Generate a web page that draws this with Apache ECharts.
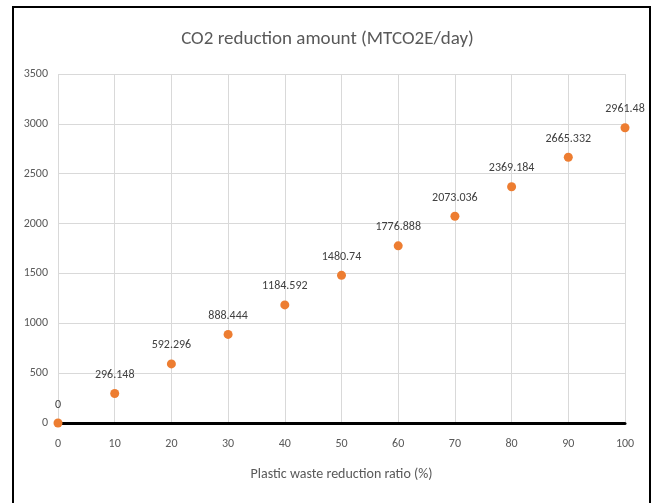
<!DOCTYPE html>
<html><head><meta charset="utf-8">
<script src="https://cdn.jsdelivr.net/npm/echarts@6/dist/echarts.min.js"></script>
<style>html,body{margin:0;padding:0;background:#fff}#c{width:655px;height:503px}</style>
</head><body><div id="c"></div>
<script>
const ratios = [0, 10, 20, 30, 40, 50, 60, 70, 80, 90, 100];
const reductions = [0, 296.148, 592.296, 888.444, 1184.592, 1480.74, 1776.888, 2073.036, 2369.184, 2665.332, 2961.48];
const titleText = 'CO2 reduction amount (MTCO2E/day)';
const xName = 'Plastic waste reduction ratio (%)';

const chart = echarts.init(document.getElementById('c'));
const txt = '#595959';
const font = 'Calibri, Carlito, "Open Sans", sans-serif';
chart.setOption({
  animation: false,
  graphic: [{type: 'rect', shape: {x: 13, y: 7, width: 637, height: 520}, style: {fill: 'none', stroke: '#000', lineWidth: 2}, z: 100}],
  title: {text: titleText, left: 'center', top: 25, textStyle: {color: txt, fontSize: 19, fontWeight: 'normal', fontFamily: font}},
  grid: {left: 58, right: 30, top: 74, bottom: 80},
  xAxis: {
    type: 'value', min: 0, max: 100, interval: 10,
    name: xName, nameLocation: 'middle', nameGap: 44,
    nameTextStyle: {color: txt, fontSize: 14, fontFamily: font},
    axisLine: {show: true, onZero: true, lineStyle: {color: '#000', width: 3}},
    axisTick: {show: false},
    axisLabel: {color: txt, fontSize: 12, margin: 15, fontFamily: font},
    splitLine: {show: true, lineStyle: {color: '#d9d9d9', width: 1}}
  },
  yAxis: {
    type: 'value', min: 0, max: 3500, interval: 500,
    axisLine: {show: false}, axisTick: {show: false},
    axisLabel: {color: txt, fontSize: 12, margin: 10, fontFamily: font, formatter: v => String(v)},
    splitLine: {show: true, lineStyle: {color: '#d9d9d9', width: 1}}
  },
  series: [{
    type: 'scatter', symbolSize: 9,
    itemStyle: {color: '#ED7D31', opacity: 1},
    data: ratios.map((r, i) => [r, reductions[i]]),
    label: {show: true, position: 'top', distance: 8, color: '#404040', fontSize: 12, fontFamily: font,
      formatter: p => String(p.value[1])}
  }]
});
</script></body></html>
